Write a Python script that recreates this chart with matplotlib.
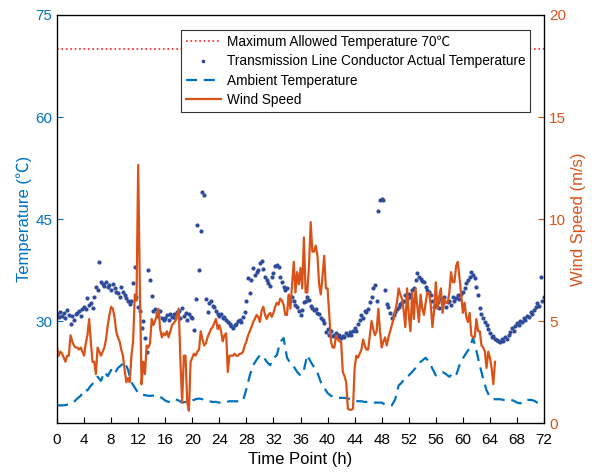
import numpy as np
import matplotlib
matplotlib.use("Agg")
import matplotlib.pyplot as plt

plt.rcParams['font.family'] = ['Liberation Sans', 'Noto Sans CJK SC', 'DejaVu Sans']

# conductor temperature, every 15 min from 0 h to 72 h (one row = one hour)
conductor_temp = [
    31.0, 30.6, 31.3, 30.8,
    31.2, 30.5, 31.6, 30.9,
    29.5, 30.8, 30.2, 31.0,
    31.2, 31.5, 30.7, 31.8,
    32.0, 31.7, 33.4, 32.3,
    32.6, 31.9, 33.5, 35.0,
    34.6, 38.7, 35.8, 35.4,
    35.2, 35.7, 35.0, 35.3,
    34.6, 35.5, 34.9, 34.2,
    34.1, 33.6, 35.0, 34.3,
    33.8, 33.4, 32.9, 32.5,
    33.0, 35.6, 38.0, 33.5,
    32.0, 31.5, 29.0, 30.0,
    27.5, 25.5, 37.5, 36.0,
    33.7, 31.4, 31.8, 31.2,
    30.8, 31.5, 30.4, 30.1,
    30.5, 30.9, 30.2, 31.1,
    30.6, 31.0, 30.4, 31.3,
    31.5, 30.5, 31.9, 30.8,
    31.2, 30.2, 31.0, 30.6,
    30.5, 28.7, 33.2, 44.1,
    37.5, 43.2, 48.9, 48.6,
    33.2, 31.3, 32.6, 33.0,
    32.2, 32.0, 31.5, 31.0,
    30.8, 31.0, 30.5, 30.6,
    30.2, 29.8, 29.5, 29.3,
    29.0, 29.4, 29.6, 30.0,
    30.2, 29.8, 30.6, 31.3,
    33.0, 36.3, 34.1, 36.0,
    37.8, 36.8, 37.2, 37.5,
    38.5, 38.8, 37.6, 36.5,
    36.0, 35.6, 35.2, 36.5,
    37.0, 38.1, 38.3, 38.0,
    36.5, 35.7, 35.0, 34.6,
    34.8, 33.6, 32.9, 33.5,
    33.0, 32.4, 32.0, 31.5,
    30.9, 31.6, 32.8, 33.0,
    33.5, 33.1, 32.2, 31.9,
    31.6, 31.8, 31.2, 31.0,
    30.5, 30.1, 29.7, 28.4,
    28.8, 28.0, 28.5, 27.8,
    28.0, 28.3, 27.6, 27.9,
    27.5, 27.8, 27.6, 28.2,
    27.9, 28.4, 28.0, 28.6,
    29.0, 28.5, 29.5, 30.2,
    30.9, 30.5, 31.5, 31.3,
    31.8, 32.8, 33.5, 34.9,
    35.3, 33.0, 46.2, 47.8,
    47.9, 47.8, 34.5, 32.5,
    32.0, 31.2, 30.4, 30.9,
    31.3, 31.8, 32.1, 32.5,
    32.8, 33.0, 33.8, 33.2,
    34.0, 33.5, 34.5, 34.9,
    36.0, 37.0, 36.5, 36.2,
    35.9, 35.7, 35.0, 34.6,
    34.3, 33.8, 33.0, 32.0,
    32.3, 32.8, 31.9, 33.2,
    32.6, 33.5, 32.1, 32.8,
    33.0, 32.4, 33.6, 32.9,
    33.4, 33.8, 33.2, 34.0,
    34.3, 34.8, 35.6, 36.0,
    36.5, 37.2, 36.8, 36.3,
    35.0, 33.8, 31.9, 31.0,
    30.4, 29.8, 29.4, 28.8,
    28.2, 27.6, 27.8, 27.4,
    27.2, 27.0, 26.9, 27.3,
    27.1, 27.6, 27.4, 28.0,
    28.4, 29.0, 28.6, 29.3,
    29.7, 29.4, 30.0, 29.8,
    30.4, 30.1, 30.8, 30.6,
    31.3, 31.0, 31.6, 32.0,
    32.6, 32.2, 36.5, 33.0,
    33.5,
]

# ambient temperature, every 30 min from 0 h to 72 h
ambient_temp = [
    17.6, 17.6, 17.6, 17.7, 17.8, 18.1, 18.6, 19.0, 19.9, 19.8,
    20.5, 21.0, 21.8, 21.2, 22.5, 21.9, 22.8, 22.2, 23.1, 23.5,
    24.0, 22.8, 21.0, 20.2, 19.4, 19.2, 19.1, 19.0, 19.0, 19.1,
    19.0, 18.7, 18.3, 18.1, 18.2, 18.5, 18.3, 18.0, 18.1, 18.1,
    18.3, 18.5, 18.6, 18.5, 18.4, 18.2, 18.1, 18.1, 18.0, 18.0,
    18.1, 18.2, 18.2, 18.2, 18.2, 18.3, 20.0, 22.0, 23.5, 24.3,
    25.0, 24.8, 24.0, 23.5, 24.5, 25.0, 26.9, 27.5, 24.6, 23.8,
    23.3, 22.5, 22.0, 22.8, 25.0, 24.0, 23.2, 22.4, 21.0, 20.2,
    19.4, 19.0, 18.8, 18.7, 18.7, 18.7, 18.6, 18.5, 18.3, 18.2,
    18.2, 18.1, 18.1, 18.1, 18.0, 18.0, 18.0, 17.7, 17.6, 17.6,
    18.5, 20.5, 21.0, 21.7, 22.0, 22.5, 23.1, 23.8, 24.2, 24.6,
    24.0, 23.0, 22.0, 22.3, 22.5, 22.2, 21.8, 22.3, 22.0, 23.5,
    24.5, 25.3, 26.0, 27.5, 25.6, 23.5, 21.5, 19.8, 18.8, 18.5,
    18.5, 18.5, 18.4, 18.4, 18.4, 18.3, 18.0, 17.9, 18.3, 18.4,
    18.4, 18.3, 18.0, 17.9, 17.9,
]

# wind speed (m/s), every 15 min from 0 h to 64.75 h
wind_speed = [
    3.7, 3.3, 3.5, 3.4,
    3.2, 3.0, 3.3, 3.3,
    4.3, 4.0, 3.8, 3.7,
    3.7, 3.6, 3.7, 3.5,
    3.3, 3.9, 4.3, 5.1,
    4.0, 3.0, 3.0, 2.4,
    3.7, 3.5, 3.3, 3.5,
    3.7, 4.1, 4.8, 5.3,
    5.7, 5.6, 5.2, 4.5,
    4.2, 4.0, 3.6, 3.3,
    2.6, 2.0, 2.2, 2.0,
    3.3, 4.0, 6.3, 6.0,
    12.65, 6.6, 1.9, 3.0,
    2.4, 3.8, 3.7, 3.9,
    5.1, 4.8, 5.0, 5.3,
    5.6, 4.6, 4.2, 4.4,
    4.3, 4.5, 4.2, 4.5,
    4.8, 4.9, 5.0, 5.3,
    5.6, 3.0, 1.0, 3.3,
    3.3, 1.0, 0.6, 3.0,
    3.2, 3.4, 3.3, 3.5,
    3.6, 4.5, 4.1, 3.8,
    3.9, 4.2, 4.4, 4.6,
    4.7, 4.9, 5.1, 4.6,
    4.8, 4.5, 4.0, 4.3,
    4.4, 2.5, 3.3, 3.3,
    3.3, 3.4, 3.3, 3.3,
    3.4, 3.4, 3.5, 3.8,
    4.0, 4.3, 4.5, 4.7,
    4.95, 5.1, 5.3, 5.2,
    4.95, 5.5, 5.7, 5.3,
    5.1, 5.3, 5.4, 5.2,
    5.4, 5.7, 5.9, 5.8,
    6.1, 6.0, 5.8, 5.3,
    5.3, 6.3, 5.6, 6.8,
    7.9, 6.4, 7.4, 6.8,
    7.6, 6.6, 9.1, 6.4,
    6.4, 7.7, 9.85, 8.4,
    8.4, 8.7, 8.2, 6.8,
    6.3, 7.2, 8.2, 6.6,
    6.6, 5.3, 4.0, 3.7,
    3.7, 4.3, 4.1, 4.0,
    4.0, 2.5, 2.3, 2.0,
    0.7, 0.65, 0.65, 0.7,
    2.7, 3.3, 3.2, 3.4,
    3.6, 4.1, 3.8, 3.6,
    3.6, 4.3, 5.0, 4.6,
    4.3, 4.5, 5.6, 4.5,
    3.7, 4.0, 4.2, 3.8,
    4.2, 4.5, 4.8, 5.1,
    5.5, 5.9, 6.6, 6.3,
    6.1, 5.5, 4.7, 6.6,
    5.3, 4.5, 6.4, 5.1,
    6.6, 5.8, 4.95, 6.3,
    5.6, 5.3, 5.9, 6.4,
    6.4, 5.8, 4.7, 5.5,
    6.9, 5.6, 6.2, 6.6,
    5.4, 6.1, 5.9, 5.9,
    6.4, 7.4, 6.9, 6.9,
    7.7, 7.9, 7.1, 6.3,
    5.4, 5.9, 5.2, 4.95,
    5.4, 4.3, 4.2, 4.2,
    5.1, 4.5, 4.5, 3.8,
    3.7, 3.5, 2.7, 3.5,
    3.2, 2.7, 1.9, 3.0,
]

max_allowed = 70
x_ticks = list(range(0, 73, 4))
left_ticks = [30, 45, 60, 75]
right_ticks = [0, 5, 10, 15, 20]

t_cond = np.arange(len(conductor_temp)) * 0.25
t_amb = np.arange(len(ambient_temp)) * 0.5
t_wind = np.arange(len(wind_speed)) * 0.25

c_left = '#0072BD'
c_right = '#D95319'
c_dots = '#2E4B9B'

fig = plt.figure(figsize=(5.92, 4.76), dpi=100)
ax = fig.add_axes([0.0963, 0.1113, 0.8227, 0.8572])
ax2 = ax.twinx()

h1, = ax.plot([0, 72], [max_allowed, max_allowed], ':', color='#FF2020', lw=1.2,
              label='Maximum Allowed Temperature 70\u2103')
h2, = ax.plot(t_cond, conductor_temp, '.', color=c_dots, ms=4,
              label='Transmission Line Conductor Actual Temperature')
h3, = ax.plot(t_amb, ambient_temp, '--', color=c_left, lw=1.6, dashes=(5, 3),
              label='Ambient Temperature')
h4, = ax2.plot(t_wind, wind_speed, '-', color=c_right, lw=1.6, label='Wind Speed')

ax.set_xlim(0, 72)
ax.set_ylim(15, 75)
ax2.set_ylim(0, 20)
ax.set_xticks(x_ticks)
ax.set_yticks(left_ticks)
ax2.set_yticks(right_ticks)

ax.tick_params(axis='x', direction='in', length=4, labelsize=11, colors='black', pad=7)
ax.tick_params(axis='y', direction='in', length=4, labelsize=11, colors=c_left)
ax2.tick_params(axis='y', direction='in', length=4, labelsize=11, colors=c_right)
for sp in ax2.spines.values():
    sp.set_color('black')
    sp.set_linewidth(0.9)

ax.set_xlabel('Time Point (h)', fontsize=12, labelpad=4)
ax.set_ylabel('Temperature (\u2103)', fontsize=12, color=c_left, labelpad=2)
ax2.set_ylabel('Wind Speed (m/s)', fontsize=12, color=c_right, labelpad=4)

leg = ax2.legend(handles=[h1, h2, h3, h4], loc='upper right',
                 bbox_to_anchor=(0.971, 0.963), borderaxespad=0,
                 fontsize=9.8, fancybox=False, framealpha=1,
                 edgecolor='#333333', handlelength=2.6, handletextpad=0.4,
                 labelspacing=0.4, borderpad=0.35, markerscale=0.8)
leg.get_frame().set_linewidth(0.8)

plt.savefig('out.png', dpi=100)
